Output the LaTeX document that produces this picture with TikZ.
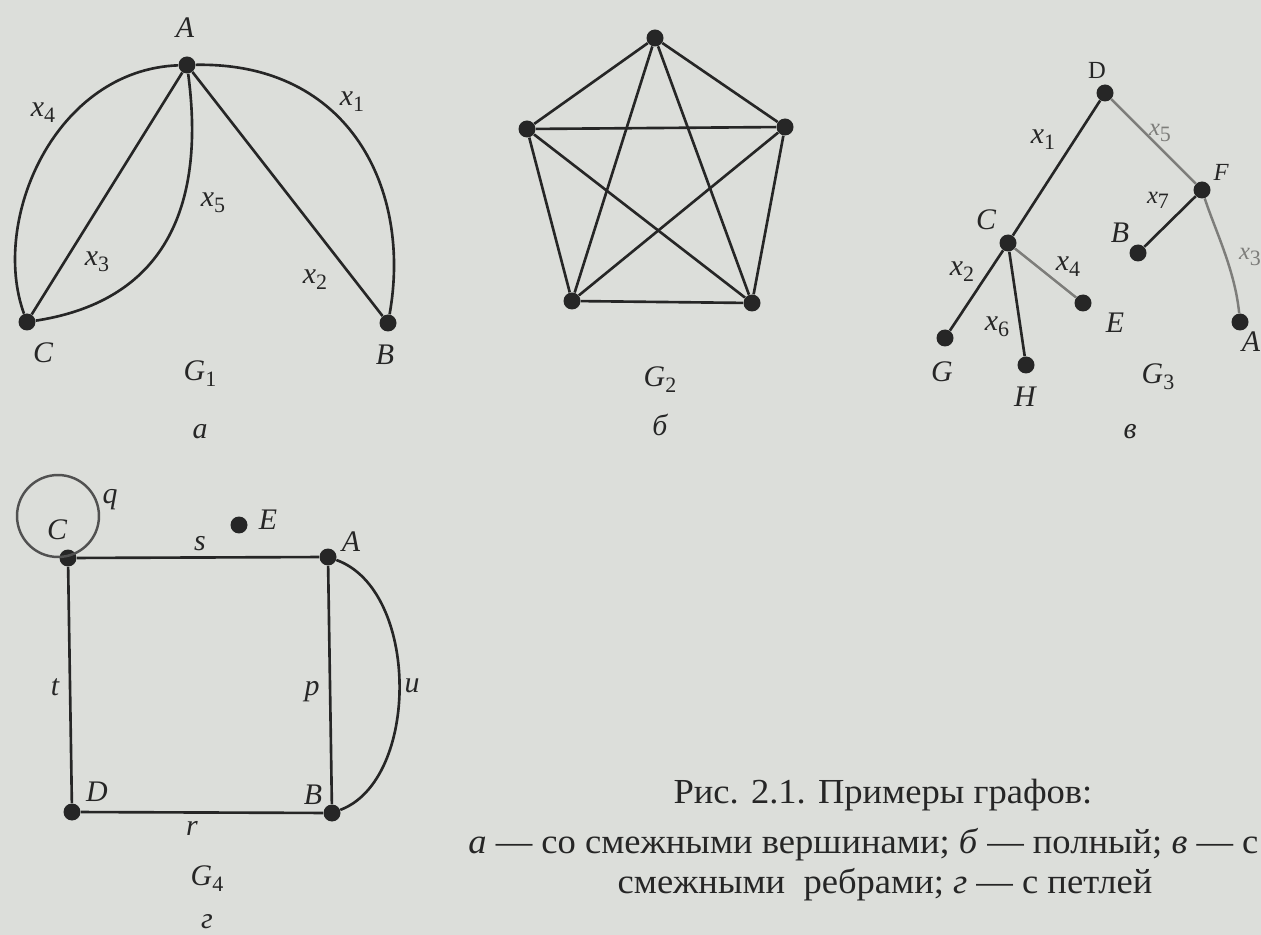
\documentclass[tikz,border=0pt]{standalone}
\usepackage{fontspec}
\setmainfont{Liberation Serif}
\newfontfamily\capfont[FakeStretch=1.04]{Liberation Serif}
\usetikzlibrary{calc}

\definecolor{paper}{RGB}{220,222,218}
\definecolor{ink}{RGB}{38,38,38}
\definecolor{faint}{RGB}{125,125,122}

\newcommand{\sbs}[1]{\raisebox{-0.45ex}{\fontsize{12.5}{14}\selectfont\upshape #1}}
\newcommand{\ix}[1]{\textit{x}\sbs{#1}}

\begin{document}
\begin{tikzpicture}[
    x=0.02cm, y=-0.02cm,
    font=\fontsize{17}{20}\selectfont,
    vtx/.style={circle, fill=ink, inner sep=0pt, minimum size=0.34cm},
    lbl/.style={text=ink, font=\fontsize{17}{20}\selectfont\itshape, inner sep=0pt},
    captxt/.style={text=ink, font=\fontsize{20}{24}\selectfont\capfont, inner sep=0pt},
    edge/.style={draw=ink, line width=1.5pt},
    pale/.style={draw=faint, line width=1.4pt}
]
    \fill[paper] (0,0) rectangle (1261,935);
    \useasboundingbox (0,0) rectangle (1261,935);

    % G1
    \node[vtx] (a1) at (187,65) {};
    \node[vtx] (b1) at (388,323) {};
    \node[vtx] (c1) at (27,322) {};
    \draw[edge] (a1) -- (b1);
    \draw[edge] (a1) -- (c1);
    \draw[edge] (a1) .. controls (350,62) and (412,190) .. (b1);
    \draw[edge] (a1) .. controls (55,70) and (-10,220) .. (c1);
    \draw[edge] (a1) .. controls (205,200) and (170,300) .. (c1);
    \node[lbl] (la1) at (185,28) {A};
    \node[lbl] (lb1) at (385,355) {B};
    \node[lbl] (lc1) at (43,353) {C};
    \node[lbl] (x1a) at (352,102) {\ix{1}};
    \node[lbl] (x2a) at (315,280) {\ix{2}};
    \node[lbl] (x3a) at (97,262) {\ix{3}};
    \node[lbl] (x4a) at (43,113) {\ix{4}};
    \node[lbl] (x5a) at (213,203) {\ix{5}};
    \node[lbl] (g1) at (200,374) {G\sbs{1}};
    \node[lbl] (sa) at (200,432) {а};

    % G2
    \node[vtx] (p1) at (655,38) {};
    \node[vtx] (p2) at (785,127) {};
    \node[vtx] (p3) at (752,303) {};
    \node[vtx] (p4) at (572,301) {};
    \node[vtx] (p5) at (527,129) {};
    \foreach \i/\j in {1/2,1/3,1/4,1/5,2/3,2/4,2/5,3/4,3/5,4/5}
        \draw[edge] (p\i) -- (p\j);
    \node[lbl] (g2) at (660,380) {G\sbs{2}};
    \node[lbl] (sb) at (660,425) {б};

    % G3
    \node[vtx] (d3) at (1105,93) {};
    \node[vtx] (f3) at (1202,190) {};
    \node[vtx] (c3) at (1008,243) {};
    \node[vtx] (b3) at (1138,253) {};
    \node[vtx] (e3) at (1083,303) {};
    \node[vtx] (a3) at (1240,322) {};
    \node[vtx] (g3) at (945,338) {};
    \node[vtx] (h3) at (1026,365) {};
    \draw[edge] (d3) -- (c3);
    \draw[pale] (d3) -- (f3);
    \draw[edge] (f3) -- (b3);
    \draw[pale] (f3) .. controls (1215,230) and (1235,270) .. (a3);
    \draw[edge] (c3) -- (g3);
    \draw[edge] (c3) -- (h3);
    \draw[pale] (c3) -- (e3);
    \node[lbl, font=\fontsize{14}{16}\selectfont\upshape] (ld3) at (1097,70) {D};
    \node[lbl, font=\fontsize{14}{16}\selectfont\itshape] (lf3) at (1221,172) {F};
    \node[lbl] (lc3) at (986,220) {C};
    \node[lbl] (lb3) at (1120,233) {B};
    \node[lbl] (le3) at (1115,323) {E};
    \node[lbl] (la3) at (1251,342) {A};
    \node[lbl] (lg3) at (942,372) {G};
    \node[lbl] (lh3) at (1025,397) {H};
    \node[lbl] (x1c) at (1043,140) {\ix{1}};
    \node[lbl, text=faint, font=\fontsize{14}{16}\selectfont\itshape] (x5c) at (1160,133) {\ix{5}};
    \node[lbl, font=\fontsize{14}{16}\selectfont\itshape] (x7c) at (1158,200) {\ix{7}};
    \node[lbl, text=faint, font=\fontsize{14}{16}\selectfont\itshape] (x3c) at (1250,257) {\ix{3}};
    \node[lbl] (x2c) at (962,272) {\ix{2}};
    \node[lbl] (x4c) at (1068,267) {\ix{4}};
    \node[lbl] (x6c) at (997,327) {\ix{6}};
    \node[lbl] (g3n) at (1158,377) {G\sbs{3}};
    \node[lbl] (sv) at (1130,432) {в};

    % G4
    \node[vtx] (c4) at (68,558) {};
    \node[vtx] (a4) at (328,557) {};
    \node[vtx] (d4) at (72,812) {};
    \node[vtx] (b4) at (332,813) {};
    \node[vtx] (e4) at (239,525) {};
    \coordinate (qc) at (58,516);
    \draw[pale, draw=ink!80] (qc) circle[radius=0.82cm];
    \draw[edge] (c4) -- (a4);
    \draw[edge] (c4) -- (d4);
    \draw[edge] (d4) -- (b4);
    \draw[edge] (a4) -- (b4);
    \draw[edge] (a4) .. controls (420,590) and (420,780) .. (b4);
    \node[lbl] (lc4) at (57,530) {C};
    \node[lbl] (q4) at (110,500) {q};
    \node[lbl] (le4) at (268,520) {E};
    \node[lbl] (la4) at (351,542) {A};
    \node[lbl] (s4) at (200,544) {s};
    \node[lbl] (t4) at (55,687) {t};
    \node[lbl] (p4l) at (312,692) {p};
    \node[lbl] (u4) at (412,686) {u};
    \node[lbl] (ld4) at (97,792) {D};
    \node[lbl] (lb4) at (313,795) {B};
    \node[lbl] (r4) at (192,828) {r};
    \node[lbl] (g4) at (207,879) {G\sbs{4}};
    \node[lbl] (sg) at (207,922) {г};

    % caption
    \node[captxt] (cap1) at (883,795) {Рис. 2.1. Примеры графов:};
    \node[captxt, anchor=west] (cap2) at (468,845) {\textit{а} — со смежными вершинами; \textit{б} — полный; \textit{в} — с};
    \node[captxt] (cap3) at (885,885) {смежными\ \ ребрами; \textit{г} — с петлей};
\end{tikzpicture}
\end{document}
